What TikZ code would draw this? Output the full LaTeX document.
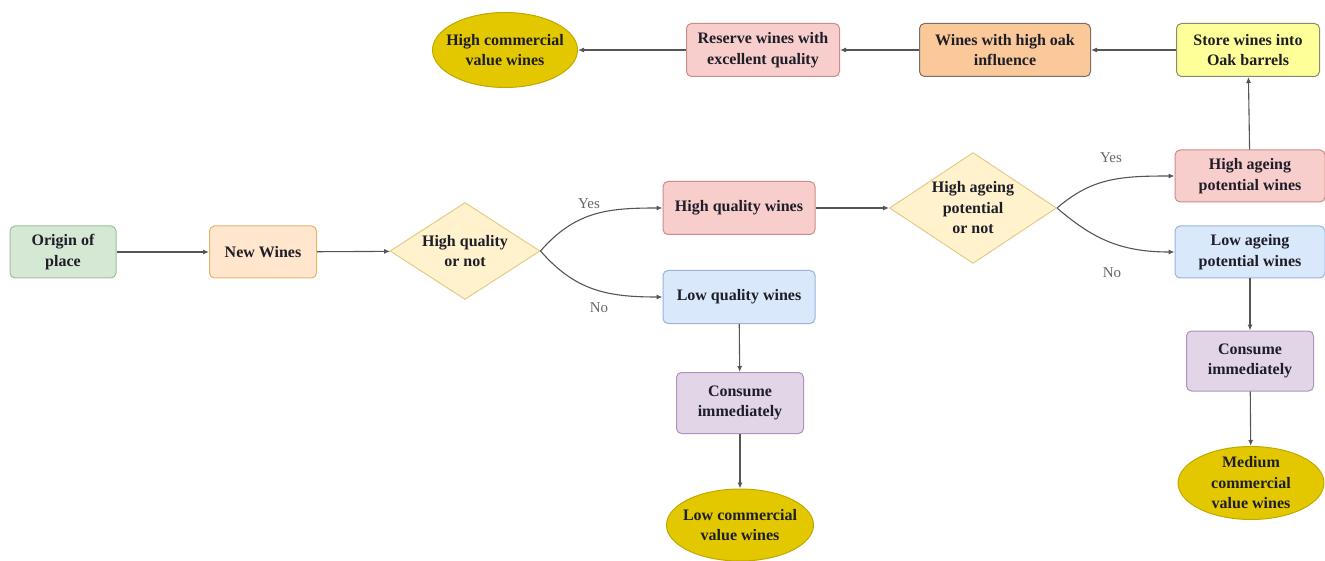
\documentclass[tikz,border=0pt]{standalone}
\usepackage{fontspec}
\setmainfont{Liberation Serif}
\usetikzlibrary{shapes.geometric,arrows.meta}
\definecolor{txt}{HTML}{1E1E28}
\definecolor{ln}{HTML}{555555}
\definecolor{green9}{HTML}{D5E8D4}\definecolor{greenS}{HTML}{9CC39A}
\definecolor{orF}{HTML}{FFE6CC}\definecolor{orS}{HTML}{E3B56A}
\definecolor{yelF}{HTML}{FFF2CC}\definecolor{yelS}{HTML}{E3CC8A}
\definecolor{pinkF}{HTML}{F8CECC}\definecolor{pinkS}{HTML}{D08A88}
\definecolor{blueF}{HTML}{DAE8FC}\definecolor{blueS}{HTML}{9AB3D6}
\definecolor{purF}{HTML}{E1D5E7}\definecolor{purS}{HTML}{AE94BC}
\definecolor{goldF}{HTML}{E3C800}\definecolor{goldS}{HTML}{C0A800}
\definecolor{oakF}{HTML}{FBC89A}\definecolor{oakS}{HTML}{7A6E66}
\definecolor{storeF}{HTML}{FFFF99}\definecolor{storeS}{HTML}{8A8A70}
\tikzset{
  base/.style={draw, line width=1pt, align=center, font=\fontsize{16}{20.5}\selectfont\bfseries, text=txt, inner sep=1pt},
  rbox/.style={base, rounded corners=5pt, minimum width=#1, minimum height=52pt},
  dia/.style={base, diamond, aspect=1.55, fill=yelF, draw=yelS, inner sep=0pt},
  ell/.style={base, ellipse, fill=goldF, draw=goldS, inner xsep=-12pt, inner ysep=-10pt},
  arr/.style={draw=ln, line width=1.1pt, -{Latex[length=6pt,width=5pt]}},
  lbl/.style={font=\fontsize{15}{18}\selectfont, text=ln!90!white}
}
\begin{document}
\begin{tikzpicture}[x=1pt,y=-1pt]
\useasboundingbox (0,0) rectangle (1325,561);
% main row
\node[rbox=106pt, fill=green9, draw=greenS] (origin) at (63,252) {Origin of\\place};
\node[rbox=107pt, fill=orF, draw=orS] (new) at (263,252) {New Wines};
\node[dia, minimum width=150pt, minimum height=97pt] (q) at (465,251) {High quality\\or not};
\node[rbox=152pt, minimum height=53pt, fill=pinkF, draw=pinkS] (hq) at (739,208) {High quality wines};
\node[rbox=152pt, minimum height=53pt, fill=blueF, draw=blueS] (lq) at (739,297) {Low quality wines};
\node[rbox=127pt, minimum height=61pt, fill=purF, draw=purS] (c1) at (740,403) {Consume\\immediately};
\node[ell, minimum width=147pt, minimum height=72pt] (lcv) at (740,525) {Low commercial\\value wines};
\node[dia, minimum width=167pt, minimum height=111pt] (a) at (973,208) {High ageing\\potential\\or not};
\node[rbox=150pt, fill=pinkF, draw=pinkS] (ha) at (1250,176) {High ageing\\potential wines};
\node[rbox=150pt, fill=blueF, draw=blueS] (la) at (1250,252) {Low ageing\\potential wines};
\node[rbox=127pt, minimum height=60pt, fill=purF, draw=purS] (c2) at (1250,361) {Consume\\immediately};
\node[ell, minimum width=146pt, minimum height=73pt] (mcv) at (1251,483) {Medium\\commercial\\value wines};
% top row
\node[rbox=143pt, minimum height=53pt, fill=storeF, draw=storeS] (store) at (1248,50) {Store wines into\\Oak barrels};
\node[rbox=171pt, minimum height=53pt, fill=oakF, draw=oakS] (oak) at (1005,50) {Wines with high oak\\influence};
\node[rbox=153pt, minimum height=53pt, fill=pinkF, draw=pinkS] (res) at (763,50) {Reserve wines with\\excellent quality};
\node[ell, minimum width=145pt, minimum height=75pt] (hcv) at (505,50) {High commercial\\value wines};
% connectors
\draw[arr] (origin) -- (new);
\draw[arr] (new) -- (q);
\draw[arr] (q.east) .. controls +(35,-40) and +(-55,0) .. (hq.west);
\draw[arr] (q.east) .. controls +(35,40) and +(-55,0) .. (lq.west);
\draw[arr] (hq) -- (a);
\draw[arr] (lq) -- (c1);
\draw[arr] (c1) -- (lcv);
\draw[arr] (a.east) .. controls +(35,-30) and +(-55,0) .. (ha.west);
\draw[arr] (a.east) .. controls +(35,30) and +(-55,0) .. (la.west);
\draw[arr] (la) -- (c2);
\draw[arr] (c2) -- (mcv);
\draw[arr] (ha) -- (store);
\draw[arr] (store) -- (oak);
\draw[arr] (oak) -- (res);
\draw[arr] (res) -- (hcv);
% labels
\node[lbl] (yes1) at (589,204) {Yes};
\node[lbl] (no1) at (599,308) {No};
\node[lbl] (yes2) at (1111,158) {Yes};
\node[lbl] (no2) at (1112,273) {No};
\end{tikzpicture}
\end{document}
